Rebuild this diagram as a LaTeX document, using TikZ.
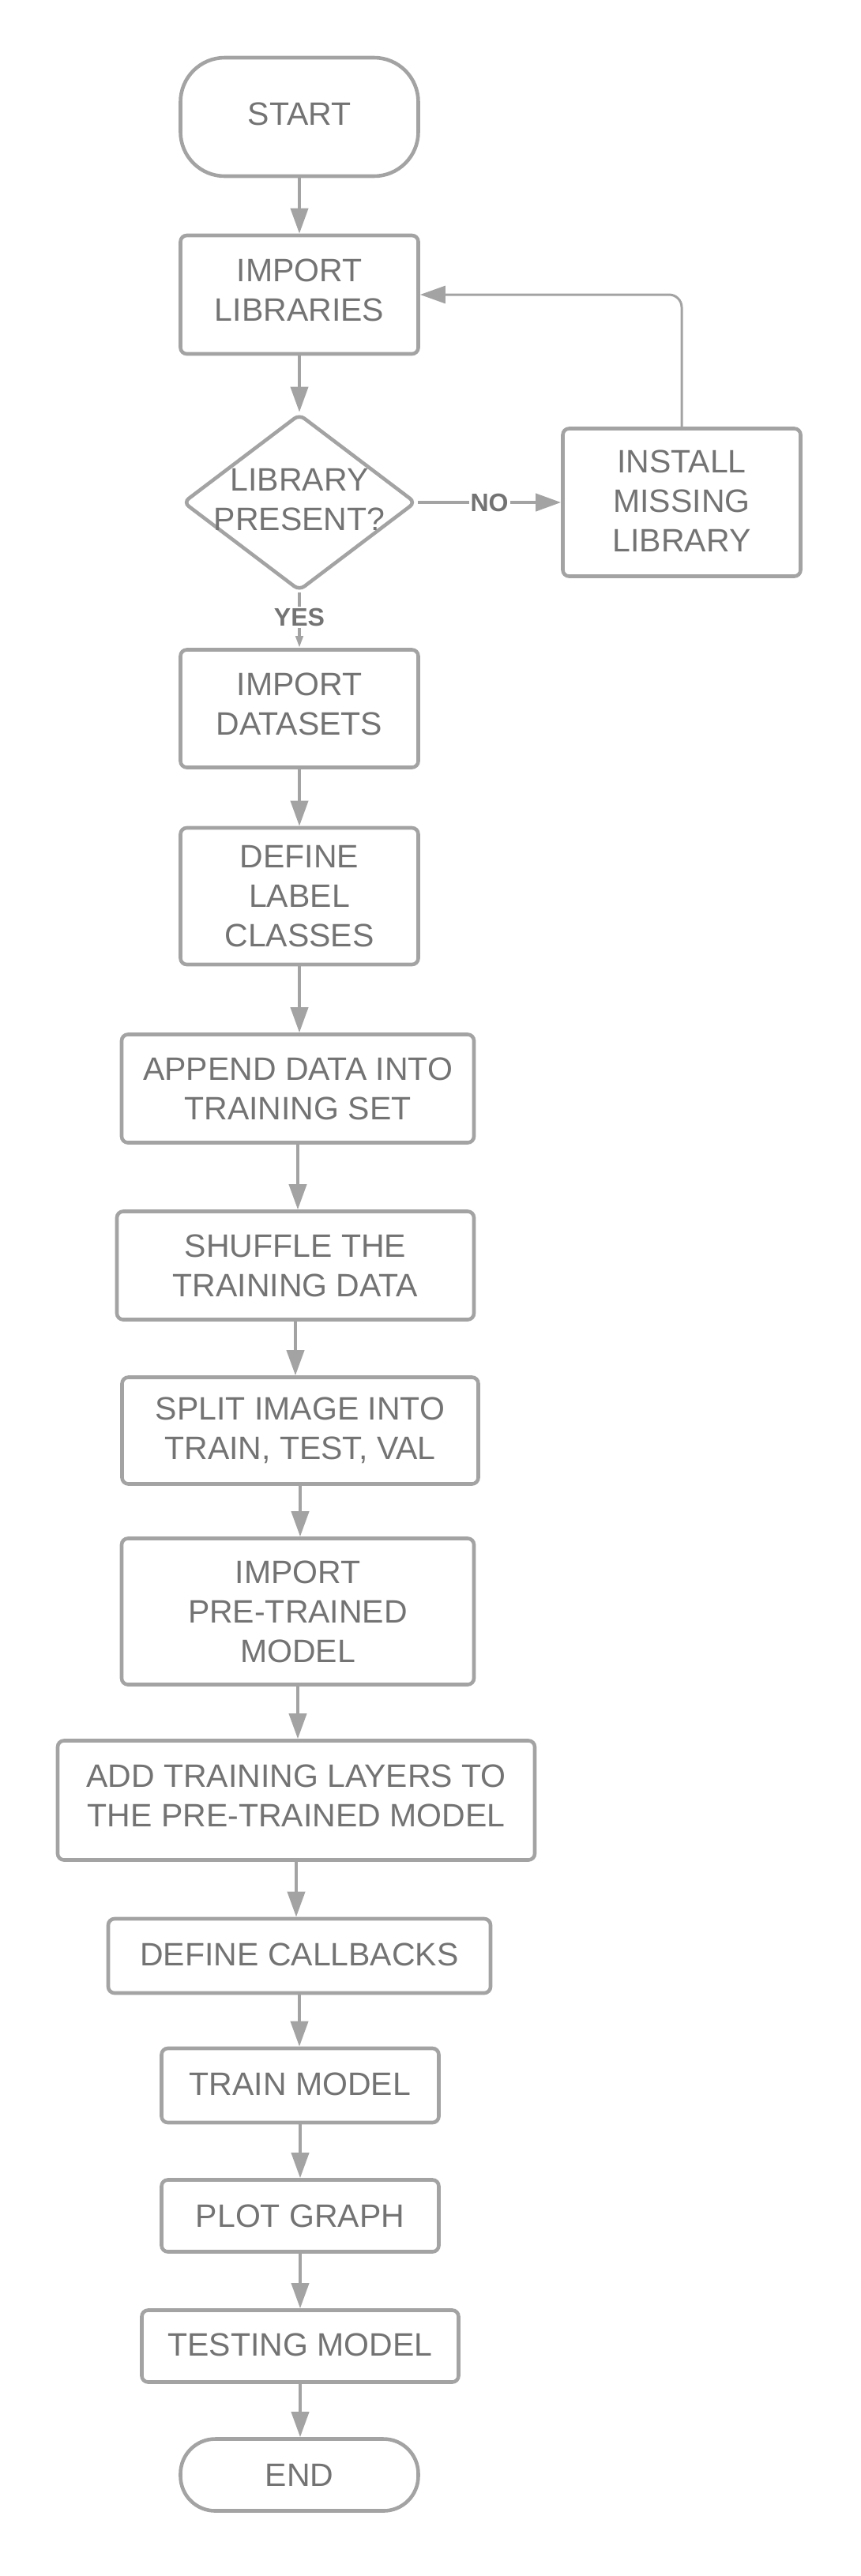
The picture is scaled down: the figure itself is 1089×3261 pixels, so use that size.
\documentclass[tikz,border=0pt]{standalone}
\usepackage{fontspec}
\setmainfont{Liberation Sans}
\usetikzlibrary{shapes.geometric,arrows.meta}
\definecolor{lc}{HTML}{A3A3A3}
\definecolor{tc}{HTML}{737373}
\begin{document}
\begin{tikzpicture}[x=0.5pt,y=-0.5pt,
  box/.style={draw=lc,line width=2.3pt,rounded corners=4pt,align=center,text=tc,
    font=\fontsize{20.5}{25}\selectfont,inner sep=0pt},
  txt/.style={align=center,text=tc,font=\fontsize{20.5}{25}\selectfont,inner sep=0pt},
  tup/.style={execute at end node={\rule[-#1]{0pt}{#1}}},
  tdn/.style={execute at begin node={\rule{0pt}{#1}}},
  arr/.style={draw=lc,line width=2pt,-{Triangle[length=16pt,width=11pt]}},
  lbl/.style={font=\bfseries\fontsize{16}{18}\selectfont,text=tc,fill=white,inner sep=1pt}]
\useasboundingbox (0,0) rectangle (1089,3261);

\node[box,tup=4pt,minimum width=150.5pt,minimum height=75pt,rounded corners=28pt] (start) at (379,148) {START};
\node[box,tup=6pt,minimum width=150.5pt,minimum height=75pt] (implib) at (379,373) {IMPORT\\LIBRARIES};
\node[box,shape=diamond,minimum width=147.5pt,minimum height=112pt] (dec) at (379,636) {};
\node[txt,tup=4pt] (dectext) at (dec.center) {LIBRARY\\PRESENT?};
\node[box,tup=2pt,minimum width=150.5pt,minimum height=93.5pt] (install) at (863,636) {INSTALL\\MISSING\\LIBRARY};
\node[box,tup=6pt,minimum width=150.5pt,minimum height=74.5pt] (impdata) at (379,897) {IMPORT\\DATASETS};
\node[box,tdn=20.5pt,minimum width=150.5pt,minimum height=86.5pt] (defclass) at (379,1134.5) {DEFINE\\LABEL\\CLASSES};
\node[box,minimum width=223pt,minimum height=68.5pt] (append) at (377,1378) {APPEND DATA INTO\\TRAINING SET};
\node[box,minimum width=226pt,minimum height=68.5pt] (shuffle) at (374,1602) {SHUFFLE THE\\TRAINING DATA};
\node[box,tdn=18pt,minimum width=225.5pt,minimum height=67.5pt] (split) at (380,1811) {SPLIT IMAGE INTO\\TRAIN, TEST, VAL};
\node[box,minimum width=223pt,minimum height=92.5pt] (imppre) at (377,2040) {IMPORT\\PRE-TRAINED\\MODEL};
\node[box,tup=6pt,minimum width=302pt,minimum height=75.5pt] (addl) at (375,2279) {ADD TRAINING LAYERS TO\\THE PRE-TRAINED MODEL};
\node[box,tup=2pt,minimum width=242pt,minimum height=47pt] (callb) at (379,2476) {DEFINE CALLBACKS};
\node[box,tup=2pt,minimum width=175.5pt,minimum height=47pt] (train) at (380,2640) {TRAIN MODEL};
\node[box,minimum width=175.5pt,minimum height=45.5pt] (plot) at (380,2805) {PLOT GRAPH};
\node[box,tup=2pt,minimum width=200.5pt,minimum height=45.5pt] (test) at (380,2970) {TESTING MODEL};
\node[box,minimum width=150.5pt,minimum height=45.5pt,rounded corners=22pt] (endn) at (379,3133) {END};

\draw[arr] (start.south) -- (start.south |- implib.north);
\draw[arr] (implib.south) -- (implib.south |- dec.north);
\draw[arr] (dec.east) -- node[lbl,pos=0.5] (no) {NO} (install.west);
\draw[draw=lc,line width=2pt,-{Triangle[length=7.5pt,width=4.5pt]}] (dec.south) -- node[lbl,pos=0.45] (yes) {YES} (dec.south |- impdata.north);
\draw[draw=lc,line width=1.5pt,rounded corners=8pt,-{Triangle[length=16pt,width=11pt]}] (install.north) |- (implib.east);
\draw[arr] (impdata.south) -- (impdata.south |- defclass.north);
\draw[arr] (defclass.south) -- (defclass.south |- append.north);
\draw[arr] (append.south) -- (append.south |- shuffle.north);
\draw[arr] (shuffle.south) -- (shuffle.south |- split.north);
\draw[arr] (split.south) -- (split.south |- imppre.north);
\draw[arr] (imppre.south) -- (imppre.south |- addl.north);
\draw[arr] (addl.south) -- (addl.south |- callb.north);
\draw[arr] (callb.south) -- (callb.south |- train.north);
\draw[arr] (train.south) -- (train.south |- plot.north);
\draw[arr] (plot.south) -- (plot.south |- test.north);
\draw[arr] (test.south) -- (test.south |- endn.north);
\end{tikzpicture}
\end{document}
